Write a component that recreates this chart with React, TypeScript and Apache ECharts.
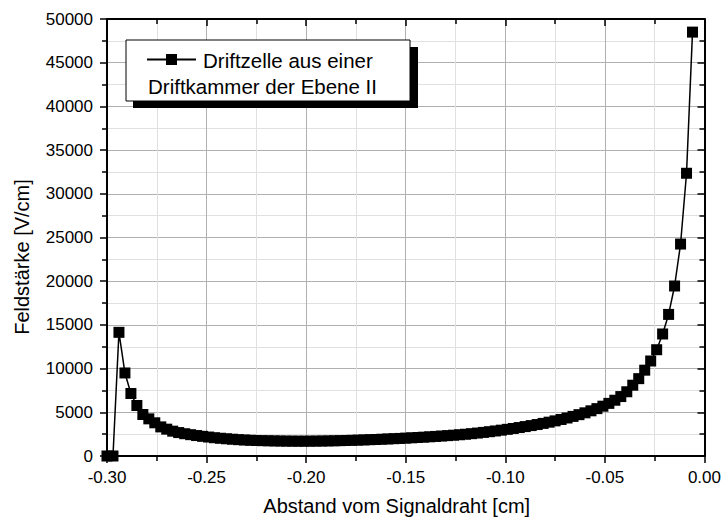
import React, { useEffect, useRef } from "react";
import * as echarts from "echarts";

const xValues: number[] = [
  -0.300, -0.297, -0.294, -0.291, -0.288, -0.285, -0.282, -0.279, -0.276, -0.273,
  -0.270, -0.267, -0.264, -0.261, -0.258, -0.255, -0.252, -0.249, -0.246, -0.243,
  -0.240, -0.237, -0.234, -0.231, -0.228, -0.225, -0.222, -0.219, -0.216, -0.213,
  -0.210, -0.207, -0.204, -0.201, -0.198, -0.195, -0.192, -0.189, -0.186, -0.183,
  -0.180, -0.177, -0.174, -0.171, -0.168, -0.165, -0.162, -0.159, -0.156, -0.153,
  -0.150, -0.147, -0.144, -0.141, -0.138, -0.135, -0.132, -0.129, -0.126, -0.123,
  -0.120, -0.117, -0.114, -0.111, -0.108, -0.105, -0.102, -0.099, -0.096, -0.093,
  -0.090, -0.087, -0.084, -0.081, -0.078, -0.075, -0.072, -0.069, -0.066, -0.063,
  -0.060, -0.057, -0.054, -0.051, -0.048, -0.045, -0.042, -0.039, -0.036, -0.033,
  -0.030, -0.027, -0.024, -0.021, -0.018, -0.015, -0.012, -0.009, -0.006,
];

const fieldValues: number[] = [
  0, 0, 14150, 9500, 7150, 5780, 4750, 4250, 3800, 3330,
  3070, 2840, 2680, 2550, 2440, 2340, 2250, 2170, 2090, 2030,
  1970, 1920, 1870, 1830, 1800, 1775, 1755, 1740, 1725, 1715,
  1705, 1700, 1695, 1695, 1700, 1705, 1715, 1725, 1740, 1755,
  1775, 1795, 1815, 1840, 1865, 1890, 1920, 1950, 1980, 2010,
  2045, 2080, 2115, 2155, 2195, 2240, 2285, 2330, 2380, 2430,
  2490, 2555, 2625, 2700, 2780, 2865, 2955, 3050, 3150, 3255,
  3365, 3480, 3600, 3730, 3870, 4020, 4180, 4350, 4530, 4730,
  4940, 5170, 5420, 5700, 6020, 6380, 6800, 7350, 8100, 8850,
  9820, 10870, 12160, 13960, 16200, 19450, 24250, 32350, 48500,
];

const seriesName = "Driftzelle aus einer Driftkammer der Ebene II";
const legendLine1 = "Driftzelle aus einer";
const legendLine2 = "Driftkammer der Ebene II";
const xTitle = "Abstand vom Signaldraht [cm]";
const yTitle = "Feldstärke [V/cm]";

const FONT = "'Liberation Sans', Arial, Helvetica, sans-serif";

export default function App() {
  const ref = useRef<HTMLDivElement>(null);

  useEffect(() => {
    if (!ref.current) return;
    const chart = echarts.init(ref.current, undefined, { renderer: "svg" });
    const data = xValues.map((x, i) => [x, fieldValues[i]]);

    const axisLine = { show: true, onZero: false, lineStyle: { color: "#000", width: 2 } };
    const majorSplit = { show: true, lineStyle: { color: "#b0b0b0", width: 1 } };
    const minorSplit = { show: true, lineStyle: { color: "#e0e0e0", width: 1 } };

    const xFmt = (v: number) => (Math.abs(v) < 1e-9 ? "0.00" : v.toFixed(2));
    const yFmt = (v: number) => String(Math.round(v));

    chart.setOption({
      animation: false,
      backgroundColor: "#fff",
      grid: { left: 107, right: 16, top: 19, bottom: 61, containLabel: false },
      xAxis: [
        {
          type: "value",
          position: "bottom",
          min: -0.3,
          max: 0,
          interval: 0.05,
          axisLine,
          axisTick: { show: true, inside: false, length: 7, lineStyle: { color: "#000", width: 1.5 } },
          minorTick: { show: true, splitNumber: 2, length: 5, lineStyle: { color: "#000", width: 1.5 } },
          splitLine: majorSplit,
          minorSplitLine: minorSplit,
          axisLabel: { formatter: xFmt, fontSize: 17, color: "#000", fontFamily: FONT, margin: 13 },
          name: xTitle,
          nameLocation: "middle",
          nameGap: 40,
          nameTextStyle: { fontSize: 20, color: "#000", fontFamily: FONT, padding: [0, 18, 0, 0] },
        },
        {
          type: "value",
          position: "top",
          min: -0.3,
          max: 0,
          interval: 0.05,
          axisLine,
          axisTick: { show: true, inside: true, length: 7, lineStyle: { color: "#000", width: 1.5 } },
          minorTick: { show: true, splitNumber: 2, length: 5, lineStyle: { color: "#000", width: 1.5 } },
          splitLine: { show: false },
          axisLabel: { show: false },
        },
      ],
      yAxis: [
        {
          type: "value",
          position: "left",
          min: 0,
          max: 50000,
          interval: 5000,
          axisLine,
          axisTick: { show: true, inside: false, length: 7, lineStyle: { color: "#000", width: 1.5 } },
          minorTick: { show: true, splitNumber: 2, length: 5, lineStyle: { color: "#000", width: 1.5 } },
          splitLine: majorSplit,
          minorSplitLine: minorSplit,
          axisLabel: { formatter: yFmt, fontSize: 17, color: "#000", fontFamily: FONT, margin: 14 },
        },
        {
          type: "value",
          position: "right",
          min: 0,
          max: 50000,
          interval: 5000,
          axisLine,
          axisTick: { show: true, inside: true, length: 7, lineStyle: { color: "#000", width: 1.5 } },
          minorTick: { show: true, splitNumber: 2, length: 5, lineStyle: { color: "#000", width: 1.5 } },
          splitLine: { show: false },
          axisLabel: { show: false },
        },
      ],
      series: [
        {
          name: seriesName,
          type: "line",
          xAxisIndex: 0,
          yAxisIndex: 0,
          data,
          clip: false,
          symbol: "rect",
          symbolSize: 11,
          showAllSymbol: true,
          lineStyle: { color: "#000", width: 1.5 },
          itemStyle: { color: "#000", borderWidth: 0 },
          z: 5,
        },
      ],
      graphic: [
        {
          type: "text",
          x: 22,
          y: 257,
          rotation: Math.PI / 2,
          style: {
            text: yTitle,
            fontSize: 20,
            fontFamily: FONT,
            fill: "#000",
            align: "center",
            verticalAlign: "middle",
          },
        },
        {
          type: "rect",
          shape: { x: 133, y: 47, width: 285, height: 61 },
          style: { fill: "#000" },
          z: 10,
        },
        {
          type: "rect",
          shape: { x: 126, y: 40, width: 284, height: 61 },
          style: { fill: "#fff", stroke: "#000", lineWidth: 1 },
          z: 11,
        },
        {
          type: "line",
          shape: { x1: 147, y1: 59.5, x2: 196, y2: 59.5 },
          style: { stroke: "#000", lineWidth: 2 },
          z: 12,
        },
        {
          type: "rect",
          shape: { x: 166, y: 54, width: 11, height: 11 },
          style: { fill: "#000" },
          z: 12,
        },
        {
          type: "text",
          x: 203,
          y: 60,
          style: {
            text: legendLine1,
            fontSize: 20.5,
            fontFamily: FONT,
            fill: "#000",
            align: "left",
            verticalAlign: "middle",
          },
          z: 12,
        },
        {
          type: "text",
          x: 148,
          y: 86,
          style: {
            text: legendLine2,
            fontSize: 20.5,
            fontFamily: FONT,
            fill: "#000",
            align: "left",
            verticalAlign: "middle",
          },
          z: 12,
        },
      ],
    });

    return () => chart.dispose();
  }, []);

  return (
    <div
      ref={ref}
      style={{ position: "absolute", left: 0, top: 0, width: 724, height: 521 }}
    />
  );
}
